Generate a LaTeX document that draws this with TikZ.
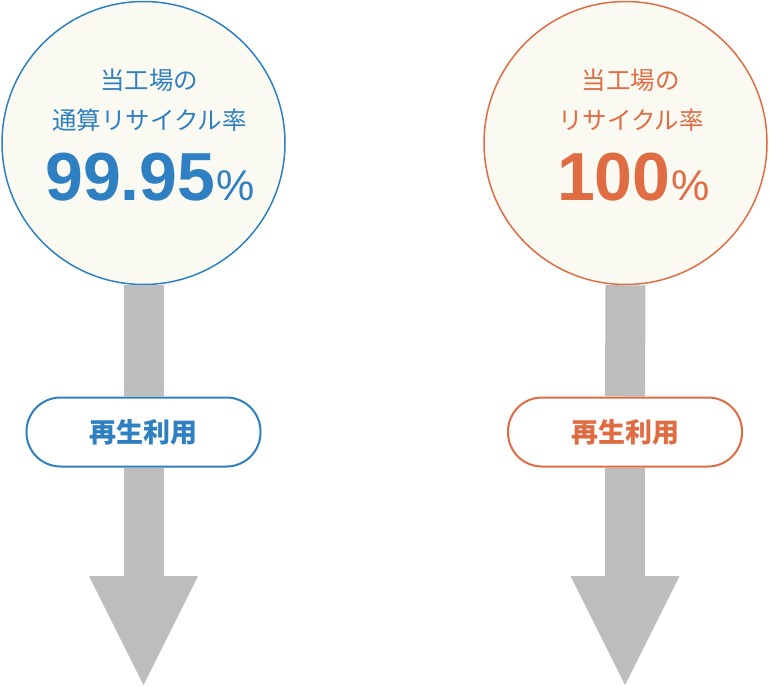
\documentclass[tikz,border=0pt]{standalone}
\usepackage{fontspec}
\setmainfont{Liberation Sans}
\newfontfamily\jpfont{Noto Sans CJK JP}
\usetikzlibrary{arrows.meta,positioning}
\definecolor{rateblue}{HTML}{2E80C2}
\definecolor{rateorange}{HTML}{E06C43}
\definecolor{circfill}{HTML}{FBFAF2}
\definecolor{shaftgray}{HTML}{BDBDBD}
\newcommand{\pct}{{\hspace{1pt}\mdseries\fontsize{43}{43}\selectfont\%}}

\tikzset{
  ratecircle/.style={circle, draw=#1, line width=1.5pt, fill=circfill, minimum size=283pt, inner sep=0pt},
  reusepill/.style={draw=#1, line width=2pt, fill=white, rounded corners=34pt, minimum width=234pt, minimum height=69pt, text=#1, font=\jpfont\bfseries\fontsize{27}{27}\selectfont},
  jptext/.style={text=#1, font=\jpfont\fontsize{24.5}{24.5}\selectfont},
  bignum/.style={text=#1, anchor=base, font=\bfseries\fontsize{68}{68}\selectfont},
  flow/.style={draw=shaftgray, line width=40pt, -{Triangle[length=109pt, width=109pt, line width=0pt]}},
}

\begin{document}
\begin{tikzpicture}[x=1pt, y=-1pt]
      \useasboundingbox (0,0) rectangle (769,686);
      % Circles
      \node[ratecircle=rateblue] (rateL) at (143.5,143) {};
      \node[ratecircle=rateorange] (rateR) at (625.5,143) {};
      % Reuse labels
      \node[reusepill=rateblue] (reuseL) at (143.5,432) {再生利用};
      \node[reusepill=rateorange] (reuseR) at (625,432) {再生利用};
      \coordinate (tipL) at (143.5,685);
      \coordinate (tipR) at (625,685);
      % Gray flows
      \draw[draw=shaftgray, line width=40pt] (rateL.south) -- (reuseL.north);
      \draw[draw=shaftgray, line width=40pt] (rateR.south) -- (reuseR.north);
      \draw[flow] (reuseL.south) -- (tipL);
      \draw[flow] (reuseR.south) -- (tipR);
      % Left circle text
      \node[jptext=rateblue] (titleL1) at (149,80) {当工場の};
      \node[jptext=rateblue] (titleL2) at (149.5,120) {通算リサイクル率};
      \node[bignum=rateblue] (numL) at (150,200) {99.95\pct};
      % Right circle text
      \node[jptext=rateorange] (titleR1) at (630.5,80) {当工場の};
      \node[jptext=rateorange] (titleR2) at (631,120) {リサイクル率};
      \node[bignum=rateorange] (numR) at (633.5,200) {100\pct};
\end{tikzpicture}
\end{document}
